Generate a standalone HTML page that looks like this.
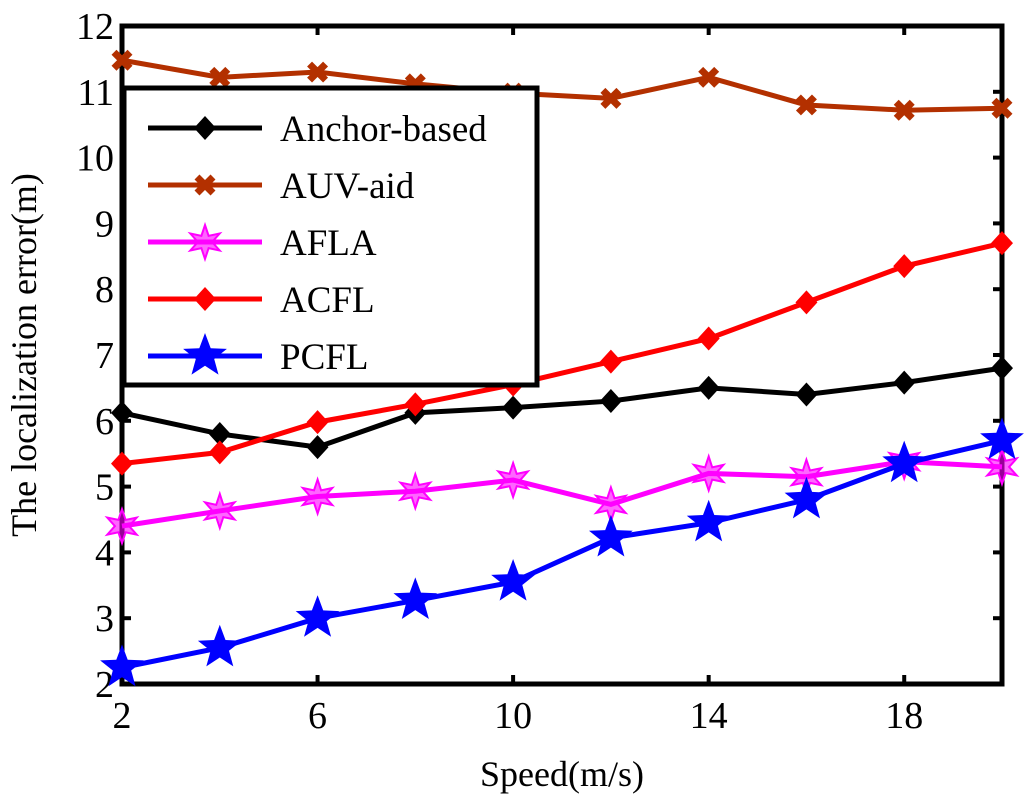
<!DOCTYPE html>
<html><head><meta charset="utf-8"><style>body{margin:0;background:#fff}svg{display:block}</style></head>
<body>
<svg id="c" width="1024" height="804" xmlns="http://www.w3.org/2000/svg" font-family="'Liberation Serif',serif"></svg>
<script>
const speeds=[2,4,6,8,10,12,14,16,18,20];
const anchorVals=[6.12,5.8,5.6,6.12,6.2,6.3,6.5,6.4,6.58,6.8];
const auvVals=[11.48,11.22,11.3,11.12,10.98,10.9,11.22,10.8,10.72,10.75];
const aflaVals=[4.4,4.63,4.85,4.93,5.1,4.73,5.2,5.15,5.38,5.3];
const acflVals=[5.35,5.52,5.98,6.25,6.55,6.9,7.25,7.8,8.35,8.7];
const pcflVals=[2.25,2.55,3.0,3.27,3.55,4.22,4.45,4.8,5.35,5.7];
const yTicks=[2,3,4,5,6,7,8,9,10,11,12];
const xTicks=[2,6,10,14,18];
const NS='http://www.w3.org/2000/svg';
const svg=document.getElementById('c');
const L=122,R=1002,T=26,B=684;
const xs=v=>L+(v-2)/(20-2)*(R-L);
const ys=v=>B-(v-2)/(12-2)*(B-T);
function mk(t,a,p){const e=document.createElementNS(NS,t);for(const k in a)e.setAttribute(k,a[k]);(p||svg).appendChild(e);return e;}
function star(cx,cy,r,pts){let d='';for(let i=0;i<pts*2;i++){const rr=i%2?r*0.42:r;const a=-Math.PI/2+i*Math.PI/pts;d+=(i?'L':'M')+(cx+rr*Math.cos(a)).toFixed(1)+' '+(cy+rr*Math.sin(a)).toFixed(1);}return d+'Z';}
function marker(g,type,x,y,col){
  if(type==='diamond')mk('path',{d:`M${x} ${y-12}L${x+11} ${y}L${x} ${y+12}L${x-11} ${y}Z`,fill:col},g);
  else if(type==='x'){mk('path',{d:`M${x-8} ${y-8}L${x+8} ${y+8}M${x+8} ${y-8}L${x-8} ${y+8}`,stroke:col,'stroke-width':7},g);}
  else if(type==='hex')mk('path',{d:star(x,y,17,6),fill:'#f0f',stroke:'#f0f','stroke-width':2,'fill-opacity':0.6},g);
  else if(type==='star5')mk('path',{d:star(x,y,23,5),fill:col},g);
}
mk('rect',{x:L,y:T,width:R-L,height:B-T,fill:'none',stroke:'#000','stroke-width':5,});
yTicks.forEach(v=>{
  mk('line',{x1:L,x2:L+9,y1:ys(v),y2:ys(v),stroke:'#000','stroke-width':4});
  mk('line',{x1:R,x2:R-9,y1:ys(v),y2:ys(v),stroke:'#000','stroke-width':4});
  const t=mk('text',{x:L-8,y:ys(v)+13,'text-anchor':'end','font-size':38});t.textContent=v;
  
  
});
xTicks.forEach(v=>{
  mk('line',{x1:xs(v),x2:xs(v),y1:B,y2:B-9,stroke:'#000','stroke-width':4});
  mk('line',{x1:xs(v),x2:xs(v),y1:T,y2:T+9,stroke:'#000','stroke-width':4});
  const t=mk('text',{x:xs(v),y:B+44,'text-anchor':'middle','font-size':38});t.textContent=v;
  
  
});
const xt=mk('text',{x:562,y:786,'text-anchor':'middle','font-size':36});xt.textContent='Speed(m/s)';


const yt=mk('text',{x:36,y:355,'text-anchor':'middle','font-size':36,transform:'rotate(-90 36 355)'});yt.textContent='The localization error(m)';


const series=[
 ['Anchor-based',anchorVals,'#000','diamond'],
 ['AUV-aid',auvVals,'#b33000','x'],
 ['AFLA',aflaVals,'#f0f','hex'],
 ['ACFL',acflVals,'#f00','diamond'],
 ['PCFL',pcflVals,'#00f','star5']];
series.forEach(s=>{
  const g=mk('g',{});
  
  
  mk('polyline',{points:speeds.map((x,i)=>xs(x)+','+ys(s[1][i])).join(' '),fill:'none',stroke:s[2],'stroke-width':5},g);
  speeds.forEach((x,i)=>marker(g,s[3],xs(x),ys(s[1][i]),s[2]));
});
const lg=mk('g',{});


mk('rect',{x:124,y:88,width:413,height:297,fill:'#fff',stroke:'#000','stroke-width':5},lg);
series.forEach((s,i)=>{
  const y=128+i*57;
  const e=mk('g',{},lg);
  
  
  mk('line',{x1:148,x2:262,y1:y,y2:y,stroke:s[2],'stroke-width':5},e);
  marker(e,s[3],205,y,s[2]);
  const t=mk('text',{x:280,y:y+13,'font-size':37},e);t.textContent=s[0];
});
</script>
</body></html>
